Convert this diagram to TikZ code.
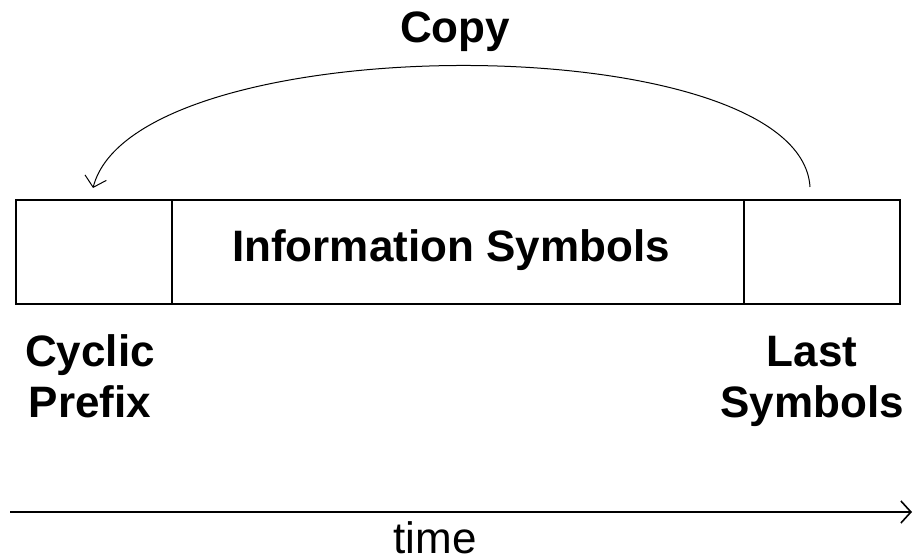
\documentclass[tikz,border=0pt]{standalone}
\usepackage{fontspec}
\setmainfont{Liberation Sans}
\usetikzlibrary{arrows.meta}
\tikzset{
  lbl/.style={font=\fontsize{22}{25}\selectfont\bfseries, inner sep=0pt, align=center},
  plain/.style={font=\fontsize{22}{25}\selectfont, inner sep=0pt, text depth=0pt},
  cell/.style={draw, line width=1pt, minimum height=52pt, inner sep=0pt, anchor=north west},
  barb/.style={-{Straight Barb[length=5pt,width=11pt]}}
}
\begin{document}
\begin{tikzpicture}[x=0.5pt,y=-0.5pt]
\useasboundingbox (0,0) rectangle (914,560);
% frame: prefix, payload, tail
\node[cell, minimum width=78pt]  (cp)   at (15,199)  {};
\node[cell, minimum width=286pt] (info) at (171,199) {};
\node[cell, minimum width=78pt]  (last) at (743,199) {};
\node[lbl, anchor=base] (infotxt) at (451,262) {Information Symbols};
% labels under the frame (base = last line)
\node[lbl, anchor=base] (cptxt)   at (90,417)  {Cyclic\\Prefix};
\node[lbl, anchor=base] (lasttxt) at (812,417) {Last\\Symbols};
% copy arrow
\coordinate (src) at (810,187);
\coordinate (dst) at (93,188);
\draw[line width=0.5pt, barb] (src) .. controls (800,25) and (135,25) .. (dst);
\node[lbl, anchor=base] (copy) at (455,43) {Copy};
% time axis
\coordinate (t0) at (10,512);
\coordinate (t1) at (912,512);
\draw[line width=0.8pt, barb] (t0) -- (t1);
\node[plain, anchor=base] (time) at (435,553) {time};
\end{tikzpicture}
\end{document}
